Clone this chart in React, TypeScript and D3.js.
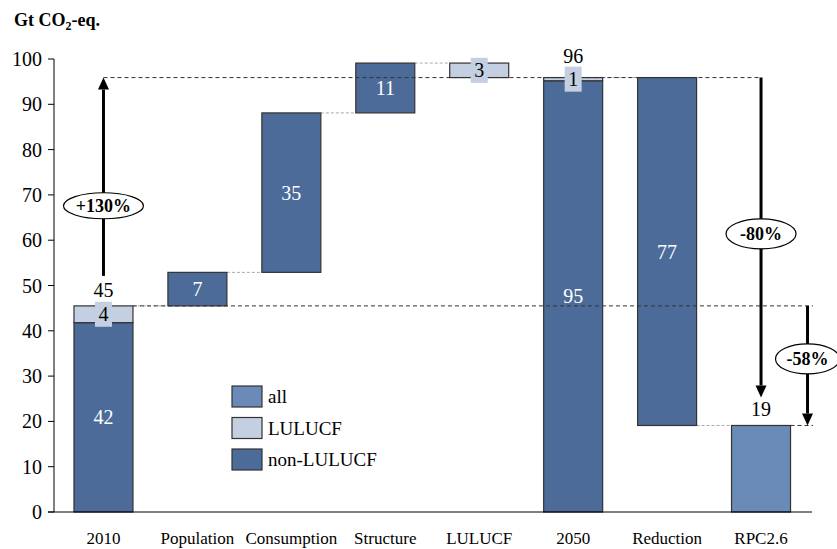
import React from "react";
import * as d3 from "d3";

const categories = ["2010", "Population", "Consumption", "Structure", "LULUCF", "2050", "Reduction", "RPC2.6"];
// waterfall: start of each bar, then stacked parts
const barStart = [0, 45.5, 52.9, 88.1, 95.9, 0, 19.1, 0];
const nonLulucfVals = [41.8, 7.4, 35.2, 11.0, 0, 95.2, 76.8, 0];
const lulucfVals = [3.7, 0, 0, 0, 3.2, 0.7, 0, 0];
const allVals = [0, 0, 0, 0, 0, 0, 0, 19.1];
const nonLulucfLabels = ["42", "7", "35", "11", "", "95", "77", ""];
const lulucfLabels = ["4", "", "", "", "3", "1", "", ""];
const totalLabels = ["45", "", "", "", "", "96", "", "19"];
const yTicks = [0, 10, 20, 30, 40, 50, 60, 70, 80, 90, 100];
const legendItems = ["all", "LULUCF", "non-LULUCF"];
const pctLabels = ["+130%", "-80%", "-58%"];
const pctLabelValues = [67.6, 61.4, 33.8];

const C_NON = "#4c6b99";
const C_LUL = "#c4cfe1";
const C_ALL = "#6a8bb8";
const FONT = "'Liberation Serif', 'Times New Roman', serif";

export default function App() {
  const W = 837, H = 549;
  const y = d3.scaleLinear().domain([0, 100]).range([512, 59]);
  const x = d3.scaleBand<string>().domain(categories).range([56.5, 808]).paddingInner(0.372).paddingOuter(0.186);
  const bw = x.bandwidth();
  const cx = (i: number) => (x(categories[i]) as number) + bw / 2;
  const left = (i: number) => x(categories[i]) as number;
  const right = (i: number) => (x(categories[i]) as number) + bw;
  const top = (i: number) => barStart[i] + nonLulucfVals[i] + lulucfVals[i] + allVals[i];

  const legendColors = [C_ALL, C_LUL, C_NON];

  const connectors: [number, number, number][] = [];
  connectors.push([right(0), left(1), top(0)]);
  connectors.push([right(1), left(2), top(1)]);
  connectors.push([right(2), left(3), top(2)]);
  connectors.push([right(3), left(4), top(3)]);
  connectors.push([right(5), left(6), top(5)]);
  connectors.push([right(6), left(7), barStart[6]]);

  const arrow = (xx: number, y1: number, y2: number, key: string) => {
    const dir = y2 > y1 ? 1 : -1;
    const hl = 12, hw = 5.5;
    return (
      <g key={key}>
        <line x1={xx} x2={xx} y1={y1} y2={y2 - dir * hl} stroke="#000" strokeWidth={3} />
        <path d={`M${xx - hw},${y2 - dir * hl} L${xx + hw},${y2 - dir * hl} L${xx},${y2} Z`} fill="#000" />
      </g>
    );
  };

  const xArrow1 = cx(0);
  const xArrow2 = cx(7);
  const xArrow3 = right(7) + 17;

  const boxTop = (i: number) => {
    const s = barStart[i] + nonLulucfVals[i] + lulucfVals[i] / 2;
    return y(s) - 12.5;
  };
  const totalBaseline = (i: number) => {
    let b = y(top(i)) - 9;
    if (lulucfLabels[i]) b = Math.min(b, boxTop(i) - 4);
    return b;
  };

  return (
    <svg width={W} height={H} style={{ position: "absolute", left: 0, top: 0, background: "#fff" }} fontFamily={FONT}>
      <text x={14} y={26} fontSize={18} fontWeight="bold">
        Gt CO<tspan fontSize={12} dy={4}>2</tspan><tspan dy={-4}>-eq.</tspan>
      </text>

      {connectors.map(([a, b, v], i) => (
        <line key={"c" + i} x1={a} x2={b} y1={y(v)} y2={y(v)} stroke="#aaa" strokeWidth={1} strokeDasharray="3,2" />
      ))}

      {categories.map((c, i) => {
        const s = barStart[i];
        const n = nonLulucfVals[i];
        const l = lulucfVals[i];
        const a = allVals[i];
        return (
          <g key={c}>
            {n > 0 && (
              <rect x={left(i)} y={y(s + n)} width={bw} height={y(s) - y(s + n)} fill={C_NON} stroke="#333" strokeWidth={1.2} />
            )}
            {l > 0 && (
              <rect x={left(i)} y={y(s + n + l)} width={bw} height={y(s + n) - y(s + n + l)} fill={C_LUL} stroke="#333" strokeWidth={1.2} />
            )}
            {a > 0 && (
              <rect x={left(i)} y={y(s + a)} width={bw} height={y(s) - y(s + a)} fill={C_ALL} stroke="#333" strokeWidth={1.2} />
            )}
          </g>
        );
      })}

      <line x1={xArrow1} x2={xArrow2} y1={y(top(5))} y2={y(top(5))} stroke="#333" strokeWidth={1} strokeDasharray="4,3" />
      <line x1={right(0)} x2={813} y1={y(top(0))} y2={y(top(0))} stroke="#333" strokeWidth={1} strokeDasharray="4,3" />
      <line x1={right(7)} x2={813} y1={y(top(7))} y2={y(top(7))} stroke="#333" strokeWidth={1} strokeDasharray="4,3" />

      {categories.map((c, i) => {
        const s = barStart[i];
        const n = nonLulucfVals[i];
        const l = lulucfVals[i];
        return (
          <g key={"lab" + c}>
            {nonLulucfLabels[i] && (
              <text x={cx(i)} y={y(s + n / 2)} dy="0.35em" textAnchor="middle" fill="#fff" fontSize={20}>
                {nonLulucfLabels[i]}
              </text>
            )}
            {lulucfLabels[i] && (
              <g>
                <rect x={cx(i) - 8.5} y={boxTop(i)} width={17} height={25} fill={C_LUL} />
                <text x={cx(i)} y={y(s + n + l / 2)} dy="0.35em" textAnchor="middle" fill="#000" fontSize={20}>
                  {lulucfLabels[i]}
                </text>
              </g>
            )}
            {totalLabels[i] && (
              <text x={cx(i)} y={totalBaseline(i)} textAnchor="middle" fill="#000" fontSize={20}>
                {totalLabels[i]}
              </text>
            )}
          </g>
        );
      })}

      {arrow(xArrow1, y(top(0)) - 30, y(top(5)), "a1")}
      {arrow(xArrow2, y(top(5)), y(top(7)) - 28, "a2")}
      {arrow(xArrow3, y(top(0)), y(top(7)), "a3")}

      {[
        [xArrow1, 40, 13],
        [xArrow2, 35, 15],
        [xArrow3, 32, 15],
      ].map(([xx, rx, ry], i) => (
        <g key={"p" + i}>
          <ellipse cx={xx} cy={y(pctLabelValues[i])} rx={rx} ry={ry} fill="#fff" stroke="#000" strokeWidth={1.2} />
          <text x={xx} y={y(pctLabelValues[i])} dy="0.35em" textAnchor="middle" fontWeight="bold" fontSize={18}>
            {pctLabels[i]}
          </text>
        </g>
      ))}

      <line x1={54} x2={54} y1={y(100)} y2={y(0)} stroke="#000" strokeWidth={1} />
      {yTicks.map((t) => (
        <g key={"t" + t}>
          <line x1={48} x2={54} y1={y(t)} y2={y(t)} stroke="#000" strokeWidth={1} />
          <text x={42} y={y(t)} dy="0.35em" textAnchor="end" fontSize={20}>
            {t}
          </text>
        </g>
      ))}
      <line x1={48} x2={812} y1={y(0)} y2={y(0)} stroke="#000" strokeWidth={1} />
      {categories.map((c, i) => (
        <text key={"xl" + c} x={cx(i)} y={538} dy="0.35em" textAnchor="middle" fontSize={17}>
          {c}
        </text>
      ))}

      {legendItems.map((l, i) => (
        <g key={"lg" + l} transform={`translate(232, ${386 + i * 31.5})`}>
          <rect x={0} y={0} width={30} height={21} fill={legendColors[i]} stroke="#333" strokeWidth={1.2} />
          <text x={36} y={10.5} dy="0.35em" fontSize={19}>
            {l}
          </text>
        </g>
      ))}
    </svg>
  );
}
